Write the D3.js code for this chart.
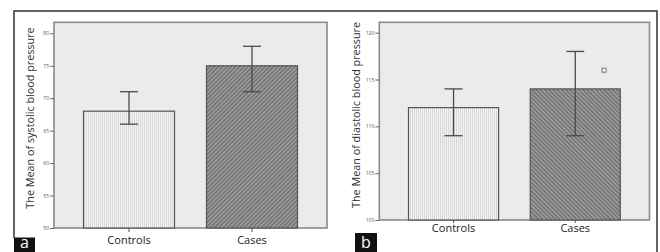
<!DOCTYPE html>
<html>
<head>
<meta charset="utf-8">
<script src="https://cdn.jsdelivr.net/npm/d3@7"></script>
<style>
  body { margin: 0; background: #fff; }
  text { font-family: "Open Sans", "DejaVu Sans", sans-serif; }
</style>
</head>
<body>
<div id="chart"></div>
<script>
// data
const categories = ["Controls", "Cases"];

const systolicMean = [68, 75];
const systolicLow = [66, 71];
const systolicHigh = [71, 78];
const systolicTicks = [50, 55, 60, 65, 70, 75, 80];

const diastolicMean = [112, 114];
const diastolicLow = [109, 109];
const diastolicHigh = [114, 118];
const diastolicOutlier = [null, 116];
const diastolicTicks = [100, 105, 110, 115, 120];

const width = 660, height = 252;

const svg = d3.select("#chart").append("svg")
  .attr("width", width)
  .attr("height", height);

// patterns
const defs = svg.append("defs");

const light = defs.append("pattern")
  .attr("id", "lightFill")
  .attr("patternUnits", "userSpaceOnUse")
  .attr("width", 2).attr("height", 2);
light.append("rect").attr("width", 2).attr("height", 2).attr("fill", "#f3f3f3");
light.append("rect").attr("width", 1).attr("height", 2).attr("fill", "#d8d8d8");

function hatch(id, angle) {
  const p = defs.append("pattern")
    .attr("id", id)
    .attr("patternUnits", "userSpaceOnUse")
    .attr("width", 3).attr("height", 3)
    .attr("patternTransform", "rotate(" + angle + ")");
  p.append("rect").attr("width", 3).attr("height", 3).attr("fill", "#a2a2a2");
  p.append("rect").attr("width", 1.4).attr("height", 3).attr("fill", "#6a6a6a");
}
hatch("darkA", 45);
hatch("darkB", -45);

// outer frame
svg.append("path")
  .attr("d", "M14,238 L14,11 L657,11 L657,252")
  .attr("fill", "none")
  .attr("stroke", "#333")
  .attr("stroke-width", 1.5);

function drawPanel(opt) {
  const g = svg.append("g");

  const x = d3.scaleBand()
    .domain(categories)
    .range([opt.left, opt.right])
    .paddingInner(0.26)
    .paddingOuter(0.24);

  const y = d3.scaleLinear()
    .domain(opt.domain)
    .range([opt.bottom, opt.topTick]);

  // plot background
  g.append("rect")
    .attr("x", opt.left).attr("y", opt.top)
    .attr("width", opt.right - opt.left)
    .attr("height", opt.bottom - opt.top)
    .attr("fill", "#ebebeb")
    .attr("stroke", "#8a8a8a")
    .attr("stroke-width", 1.6);

  // bars
  g.selectAll(".bar")
    .data(categories)
    .join("rect")
    .attr("class", "bar")
    .attr("x", d => x(d))
    .attr("width", x.bandwidth())
    .attr("y", (d, i) => y(opt.mean[i]))
    .attr("height", (d, i) => opt.bottom - y(opt.mean[i]))
    .attr("fill", (d, i) => i === 0 ? "url(#lightFill)" : "url(#" + opt.hatch + ")")
    .attr("stroke", "#555")
    .attr("stroke-width", 1.2);

  // error bars
  const cap = 9;
  const eb = g.selectAll(".err")
    .data(categories)
    .join("g")
    .attr("class", "err")
    .attr("stroke", "#4a4a4a")
    .attr("stroke-width", 1.3);
  eb.append("line")
    .attr("x1", d => x(d) + x.bandwidth() / 2)
    .attr("x2", d => x(d) + x.bandwidth() / 2)
    .attr("y1", (d, i) => y(opt.low[i]))
    .attr("y2", (d, i) => y(opt.high[i]));
  eb.append("line")
    .attr("x1", d => x(d) + x.bandwidth() / 2 - cap)
    .attr("x2", d => x(d) + x.bandwidth() / 2 + cap)
    .attr("y1", (d, i) => y(opt.low[i]))
    .attr("y2", (d, i) => y(opt.low[i]));
  eb.append("line")
    .attr("x1", d => x(d) + x.bandwidth() / 2 - cap)
    .attr("x2", d => x(d) + x.bandwidth() / 2 + cap)
    .attr("y1", (d, i) => y(opt.high[i]))
    .attr("y2", (d, i) => y(opt.high[i]));

  // outlier marker
  if (opt.outlier) {
    g.selectAll(".out")
      .data(categories.filter((d, i) => opt.outlier[i] != null))
      .join("rect")
      .attr("class", "out")
      .attr("x", d => x(d) + x.bandwidth() * 0.82 - 2)
      .attr("y", d => y(opt.outlier[categories.indexOf(d)]) - 2)
      .attr("width", 4).attr("height", 4)
      .attr("fill", "#fff")
      .attr("stroke", "#555")
      .attr("stroke-width", 0.8);
  }

  // y axis
  const yAxis = g.append("g")
    .attr("transform", "translate(" + opt.left + ",0)")
    .call(d3.axisLeft(y).tickValues(opt.ticks).tickSize(4).tickPadding(1));
  yAxis.select(".domain").remove();
  yAxis.selectAll("line").attr("stroke", "#666");
  yAxis.selectAll("text").attr("font-size", 5).attr("fill", "#555");

  // x axis
  const xAxis = g.append("g")
    .attr("transform", "translate(0," + opt.bottom + ")")
    .call(d3.axisBottom(x).tickSize(opt.xTick).tickPadding(opt.xPad));
  xAxis.select(".domain").remove();
  xAxis.selectAll("line").attr("stroke", "#555");
  xAxis.selectAll("text")
    .attr("font-size", 11)
    .attr("fill", "#222");

  // y title
  g.append("text")
    .attr("transform", "translate(" + opt.titleX + "," + opt.titleY + ") rotate(-90)")
    .attr("text-anchor", "middle")
    .attr("font-size", 10.8)
    .attr("fill", "#333")
    .text(opt.title);

  // panel letter
  g.append("rect")
    .attr("x", opt.tagX).attr("y", opt.tagY)
    .attr("width", opt.tagW).attr("height", height - opt.tagY)
    .attr("fill", "#111");
  g.append("text")
    .attr("x", opt.tagX + opt.tagW / 2)
    .attr("y", height - 4)
    .attr("text-anchor", "middle")
    .attr("font-size", 16)
    .attr("fill", "#fff")
    .text(opt.tag);
}

drawPanel({
  left: 54, right: 327, top: 22.3, bottom: 228, topTick: 33.3,
  domain: [50, 80], ticks: systolicTicks,
  mean: systolicMean, low: systolicLow, high: systolicHigh,
  hatch: "darkA", xTick: 4, xPad: 4,
  title: "The Mean of systolic blood pressure", titleX: 34, titleY: 118,
  tag: "a", tagX: 14, tagY: 237.5, tagW: 21
});

drawPanel({
  left: 379.3, right: 649.5, top: 22.3, bottom: 220, topTick: 32.7,
  domain: [100, 120], ticks: diastolicTicks,
  mean: diastolicMean, low: diastolicLow, high: diastolicHigh,
  outlier: diastolicOutlier,
  hatch: "darkB", xTick: 3, xPad: 1,
  title: "The Mean of diastolic blood pressure", titleX: 360, titleY: 115,
  tag: "b", tagX: 355, tagY: 233, tagW: 22
});
</script>
</body>
</html>
